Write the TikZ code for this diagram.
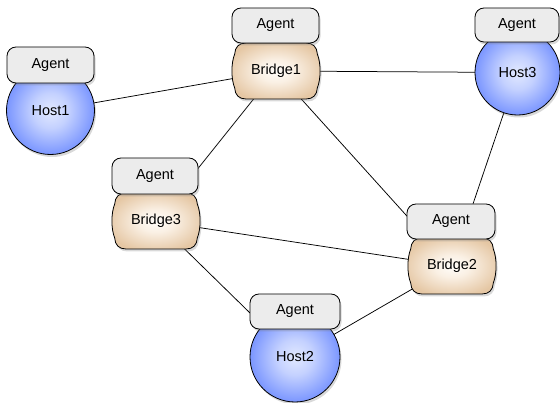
\documentclass[tikz,border=0pt]{standalone}
\usepackage{fontspec}
\setmainfont{Liberation Sans}
\usetikzlibrary{shadows}
\pgfdeclarelayer{background}
\pgfsetlayers{background,main}
\definecolor{agentfill}{RGB}{236,236,236}
\definecolor{hostin}{RGB}{226,233,255}
\definecolor{hostmid}{RGB}{196,209,255}
\definecolor{hostout}{RGB}{108,138,255}
\definecolor{bridgein}{RGB}{255,253,250}
\definecolor{bridgemid}{RGB}{250,240,228}
\definecolor{bridgeout}{RGB}{229,199,164}
\pgfdeclareradialshading{hostshade}{\pgfpoint{0bp}{0bp}}{color(0bp)=(hostin); color(10bp)=(hostmid); color(28bp)=(hostout); color(50bp)=(hostout)}
\pgfdeclareradialshading{bridgeshade}{\pgfpoint{0bp}{0bp}}{color(0bp)=(bridgein); color(10bp)=(bridgemid); color(28bp)=(bridgeout); color(50bp)=(bridgeout)}
\tikzset{
  lbl/.style={font=\fontsize{14.5}{17}\selectfont, text=black},
  shad/.style={drop shadow={opacity=0.3, shadow xshift=1.5pt, shadow yshift=-2.5pt}},
  agentbox/.style={lbl, draw=black, line width=0.8pt, rounded corners=9pt, fill=agentfill,
    minimum width=#1, minimum height=35pt, inner sep=0pt, shad},
  agentbox/.default=87pt,
  hostbody/.style={lbl, circle, draw=black, line width=0.8pt, shading=hostshade,
    minimum size=#1, inner sep=0pt, shad},
  bridgeshape/.style={draw=black, line width=0.8pt, shading=bridgeshade, shad},
  bridgelabel/.style={lbl, inner sep=1pt},
  link/.style={draw=black, line width=0.75pt},
}
\newcommand\bridgepath[1]{%
  \path[bridgeshape, shift={(#1)}]
    (-30,-28) -- (30,-28) .. controls (37,-28) and (41,-24) .. (41.3,-17)
    .. controls (45,-8) and (45,8) .. (41.3,17)
    .. controls (41,24) and (37,28) .. (30,28) -- (-30,28)
    .. controls (-37,28) and (-41,24) .. (-41.3,17)
    .. controls (-45,8) and (-45,-8) .. (-41.3,-17)
    .. controls (-41,-24) and (-37,-28) .. (-30,-28) -- cycle;}
\begin{document}
\begin{tikzpicture}[x=1pt,y=-1pt]
\useasboundingbox (0,0) rectangle (560,403);
% positions of the bridge bodies
\coordinate (pb1) at (276,71);
\coordinate (pb2) at (452,266);
\coordinate (pb3) at (156,221);
% bridge bodies
\bridgepath{pb1}
\bridgepath{pb2}
\bridgepath{pb3}
\node[bridgelabel] (b1) at (pb1) {Bridge1};
\node[bridgelabel] (b2) at (pb2) {Bridge2};
\node[bridgelabel] (b3) at (pb3) {Bridge3};
% hosts
\node[hostbody=88pt] (h1) at (50.5,110.5) {Host1};
\node[hostbody=90pt] (h2) at (295,357) {Host2};
\node[hostbody=85pt] (h3) at (517.5,72.5) {Host3};
% agents
\node[agentbox=87pt, minimum height=36pt] (ah1) at (50.5,65) {Agent};
\node[agentbox=87pt] (ab1) at (275.5,25.5) {Agent};
\node[agentbox=84pt, minimum height=34pt] (ah3) at (517,25) {Agent};
\node[agentbox=86pt, minimum height=36pt] (ab3) at (155,176) {Agent};
\node[agentbox=88pt] (ab2) at (451,221.5) {Agent};
\node[agentbox=90pt] (ah2) at (295,311.5) {Agent};
% links
\begin{pgfonlayer}{background}
\path[link] (h1.center) -- (b1.center);
\path[link] (b1.center) -- (h3.center);
\path[link] (b1.center) -- (b3.center);
\path[link] (b1.center) -- (b2.center);
\path[link] (h3.center) -- (b2.center);
\path[link] (b3.center) -- (b2.center);
\path[link] (b3.center) -- (h2.center);
\path[link] (b2.center) -- (h2.center);
\end{pgfonlayer}
\end{tikzpicture}
\end{document}
